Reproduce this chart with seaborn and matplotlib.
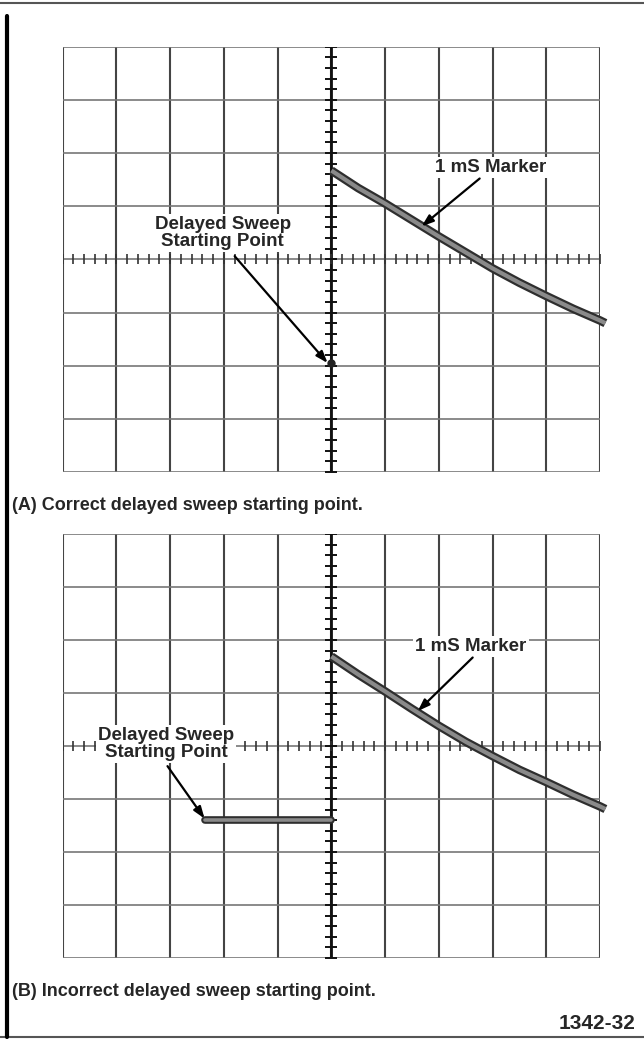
import numpy as np
import matplotlib
matplotlib.use('Agg')
import matplotlib.pyplot as plt
import seaborn as sns
from matplotlib.lines import Line2D

sns.set_style('white')
plt.rcParams['font.family'] = ['Liberation Sans', 'DejaVu Sans']

# 1 mS marker trace, in graticule divisions from screen centre
trace_x = [0.0, 0.5, 1.0, 1.5, 2.0, 2.5, 3.0, 3.5, 4.0, 4.5, 5.0, 5.1]
trace_a_y = [1.67, 1.34, 1.05, 0.74, 0.43, 0.13, -0.17, -0.44, -0.69, -0.93, -1.15, -1.20]
trace_b_y = [1.69, 1.35, 1.03, 0.70, 0.38, 0.08, -0.19, -0.45, -0.68, -0.92, -1.14, -1.19]

# delayed sweep starting points
start_a = (0.0, -1.95)
base_b_x = [-2.35, 0.0]
base_b_y = [-1.40, -1.40]

captions = ['(A) Correct delayed sweep starting point.',
            '(B) Incorrect delayed sweep starting point.']
figure_id = '1342-32'

# label text pos, arrow start, arrow tip
labels_a = [('1 mS Marker', (2.97, 1.73), (2.76, 1.52), (1.68, 0.62)),
            ('Delayed Sweep\nStarting Point', (-2.02, 0.50), (-1.80, 0.06), (-0.07, -1.95))]
labels_b = [('1 mS Marker', (2.60, 1.88), (2.63, 1.67), (1.61, 0.66)),
            ('Delayed Sweep\nStarting Point', (-3.08, 0.04), (-3.05, -0.38), (-2.36, -1.37))]


def graticule(ax):
    ax.set_xlim(-5, 5)
    ax.set_ylim(-4, 4)
    ax.axis('off')
    for i in range(-5, 6):
        ax.axvline(i, color='#444444', lw=1.5, zorder=1)
    for j in range(-4, 5):
        ax.axhline(j, color='#777777', lw=1.2, zorder=1)
    ax.axvline(0, color='#111111', lw=2.0, zorder=2)
    # minor ticks on the centre lines
    hx = np.arange(-5, 5.01, 0.2)
    ax.plot(hx, np.zeros_like(hx), ls='none', marker='|', ms=7, mew=1.2, color='#333333', zorder=2)
    vy = np.arange(-4, 4.01, 0.2)
    ax.plot(np.zeros_like(vy), vy, ls='none', marker='_', ms=8, mew=1.4, color='#111111', zorder=2)


def trace(ax, x, y):
    sns.lineplot(x=x, y=y, ax=ax, color='#2e2e2e', lw=6.2, clip_on=False, zorder=4,
                 solid_capstyle='butt')
    sns.lineplot(x=x, y=y, ax=ax, color='#8a8a8a', lw=3.0, clip_on=False, zorder=5,
                 solid_capstyle='butt')


def labels(ax, items):
    for txt, pos, a0, a1 in items:
        ax.text(pos[0], pos[1], txt, ha='center', va='center', fontsize=13.5,
                fontweight='bold', linespacing=1.0, zorder=6,
                bbox=dict(facecolor='white', edgecolor='none', pad=1.5))
        ax.annotate('', xy=a1, xytext=a0, zorder=7,
                    arrowprops=dict(arrowstyle='-|>,head_length=0.7,head_width=0.25',
                                    color='black', lw=1.6, shrinkA=0, shrinkB=0))


fig = plt.figure(figsize=(6.44, 10.39), dpi=100)

ax_a = fig.add_axes([0.0974, 0.5457, 0.8343, 0.4094])
graticule(ax_a)
trace(ax_a, trace_x, trace_a_y)
ax_a.plot([start_a[0]], [start_a[1]], marker='o', ms=5, color='#222222', zorder=5)
labels(ax_a, labels_a)

ax_b = fig.add_axes([0.0974, 0.0780, 0.8343, 0.4080])
graticule(ax_b)
trace(ax_b, trace_x, trace_b_y)
sns.lineplot(x=base_b_x, y=base_b_y, ax=ax_b, color='#2e2e2e', lw=5.5, zorder=4)
sns.lineplot(x=base_b_x, y=base_b_y, ax=ax_b, color='#8a8a8a', lw=2.6, zorder=5)
labels(ax_b, labels_b)

fig.text(0.019, 0.513, captions[0], ha='left', va='center', fontsize=13, fontweight='bold')
fig.text(0.019, 0.046, captions[1], ha='left', va='center', fontsize=13, fontweight='bold')
fig.text(0.987, 0.015, figure_id, ha='right', va='center', fontsize=15, fontweight='bold')

# page border
fig.add_artist(Line2D([0.0, 1.0], [0.997, 0.997], color='#555555', lw=1.5))
fig.add_artist(Line2D([0.0, 1.0], [0.002, 0.002], color='#555555', lw=1.5))
fig.add_artist(Line2D([0.011, 0.011], [0.002, 0.985], color='black', lw=3))

fig.savefig('out.png', dpi=100)
